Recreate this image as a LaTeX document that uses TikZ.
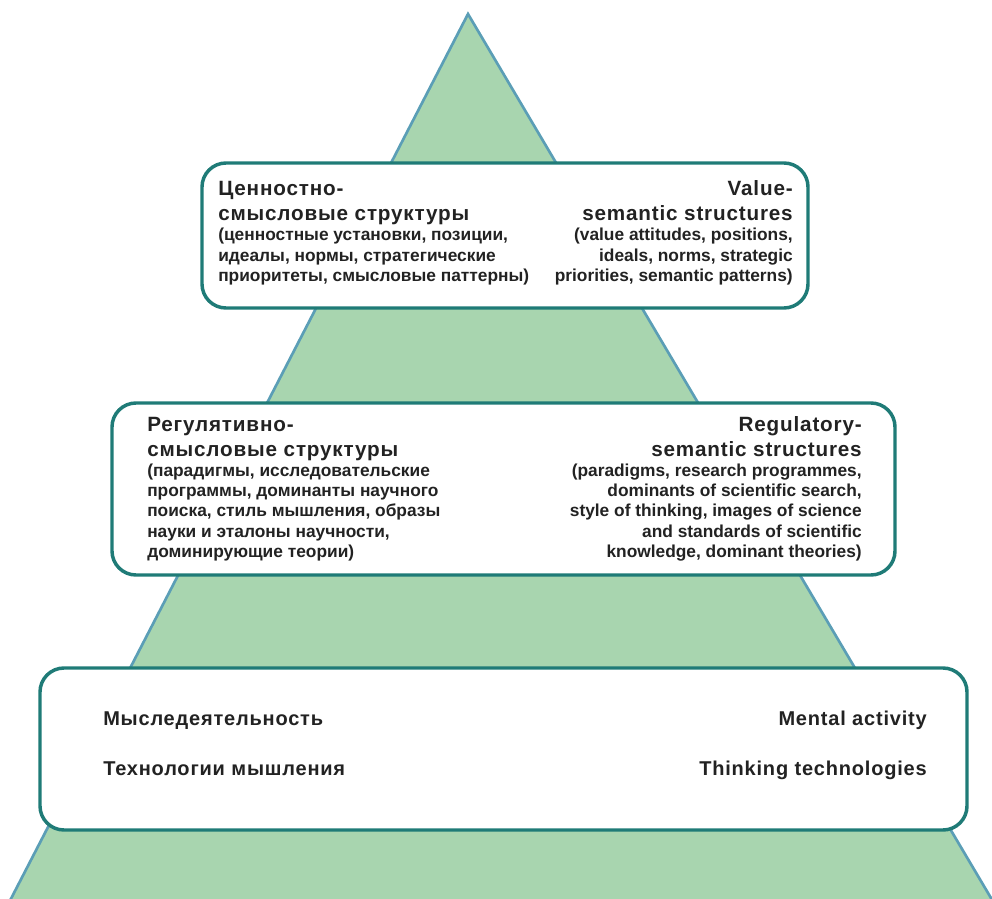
\documentclass[tikz,border=0pt]{standalone}
\usepackage{fontspec}
\setmainfont{Liberation Sans}
\newfontfamily\headfont[LetterSpace=4]{Liberation Sans}
\usetikzlibrary{positioning}
\definecolor{pyrfill}{HTML}{A8D5AF}
\definecolor{pyredge}{HTML}{5B9EB6}
\definecolor{boxedge}{HTML}{1F7B77}
\definecolor{ink}{HTML}{222222}
\tikzset{
  level/.style={draw=boxedge, line width=2.6pt, fill=white, rounded corners=18pt, inner sep=0pt},
  head/.style={font=\headfont\bfseries\fontsize{15.5}{18.5}\selectfont, inner sep=0pt, text=ink},
  detail/.style={font=\bfseries\fontsize{13}{15.2}\selectfont, inner sep=0pt, text=ink},
  activity/.style={font=\headfont\bfseries\fontsize{15}{17}\selectfont, inner sep=0pt, text=ink}
}
\begin{document}
\begin{tikzpicture}[x=0.75pt, y=-0.75pt]
\clip (0,0) rectangle (992,899);
% Pyramid
    \draw[pyredge, line width=2pt, fill=pyrfill] (468,14) -- (1004,920) -- (0,920) -- cycle;
% Levels
    \node[level, minimum width=454.5pt, minimum height=108.75pt] (value) at (505,235.5) {};
    \node[level, minimum width=587.25pt, minimum height=129pt] (regul) at (503.5,489) {};
    \node[level, minimum width=695.25pt, minimum height=121.5pt] (mental) at (503.5,749) {};
% Value-semantic level (base = last line)
    \node[head, align=left, anchor=base west] (value-ru) at (218,220) {Ценностно-\\смысловые структуры};
    \node[detail, align=left, anchor=base west] (value-ru-list) at (218,281.5) {(ценностные установки, позиции,\\идеалы, нормы, стратегические\\приоритеты, смысловые паттерны)};
    \node[head, align=right, anchor=base east] (value-en) at (793,220) {Value-\\semantic structures};
    \node[detail, align=right, anchor=base east] (value-en-list) at (793,281.5) {(value attitudes, positions,\\ideals, norms, strategic\\priorities, semantic patterns)};
% Regulatory-semantic level
    \node[head, align=left, anchor=base west] (regul-ru) at (147,456) {Регулятивно-\\смысловые структуры};
    \node[detail, align=left, anchor=base west] (regul-ru-list) at (147,557.5) {(парадигмы, исследовательские\\программы, доминанты научного\\поиска, стиль мышления, образы\\науки и эталоны научности,\\доминирующие теории)};
    \node[head, align=right, anchor=base east] (regul-en) at (862,456) {Regulatory-\\semantic structures};
    \node[detail, align=right, anchor=base east] (regul-en-list) at (862,557.5) {(paradigms, research programmes,\\dominants of scientific search,\\style of thinking, images of science\\and standards of scientific\\knowledge, dominant theories)};
% Mental activity level
    \node[activity, anchor=base west] (mental-ru) at (103,725) {Мыследеятельность};
    \node[activity, anchor=base west] (tech-ru) at (103,775) {Технологии мышления};
    \node[activity, anchor=base east] (mental-en) at (927,725) {Mental activity};
    \node[activity, anchor=base east] (tech-en) at (927,775) {Thinking technologies};
\end{tikzpicture}
\end{document}
